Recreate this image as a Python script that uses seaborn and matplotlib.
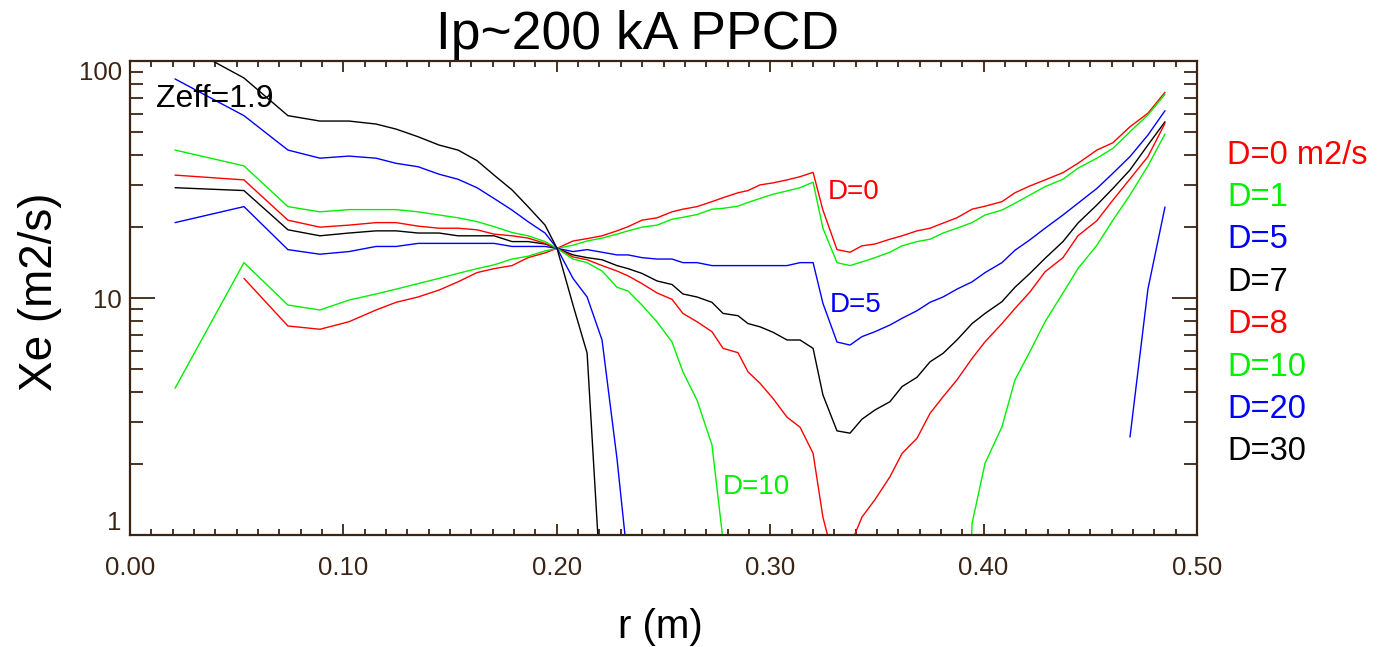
import numpy as np
import pandas as pd
import matplotlib
matplotlib.use("Agg")
import matplotlib.pyplot as plt
import seaborn as sns
from matplotlib.ticker import MultipleLocator, LogLocator, FuncFormatter, NullFormatter

nan = np.nan

# radial grid (m)
r = [0.0211, 0.0534, 0.0740, 0.0890, 0.1026, 0.1153, 0.1247, 0.1350, 0.1448, 0.1537,
     0.1626, 0.1706, 0.1790, 0.1865, 0.1945, 0.2001, 0.2076, 0.2142, 0.2212, 0.2282,
     0.2334, 0.2399, 0.2470, 0.2540, 0.2591, 0.2657, 0.2727, 0.2779, 0.2849, 0.2896,
     0.2952, 0.3013, 0.3079, 0.3140, 0.3201, 0.3247, 0.3313, 0.3374, 0.3430, 0.3491,
     0.3561, 0.3618, 0.3688, 0.3749, 0.3810, 0.3875, 0.3946, 0.4007, 0.4086, 0.4147,
     0.4217, 0.4288, 0.4372, 0.4442, 0.4531, 0.4606, 0.4686, 0.4770, 0.4850]

xe_d0 = [nan, 12.1, 7.62, 7.38, 7.94, 8.9, 9.59, 10.1, 10.8, 11.7,
         12.8, 13.3, 13.7, 14.8, 15.5, 16.2, 17.4, 17.8, 18.3, 19.2,
         20.0, 21.3, 21.8, 23.1, 23.7, 24.3, 25.5, 26.5, 27.8, 28.4,
         30.0, 30.6, 31.5, 32.5, 33.9, 23.5, 16.0, 15.6, 16.6, 16.9,
         17.7, 18.3, 19.2, 19.7, 20.7, 21.8, 23.7, 24.4, 25.5, 27.8,
         29.7, 31.5, 33.8, 37.0, 42.1, 45.2, 52.8, 60.2, 73.8]

xe_d1 = [4.16, 14.1, 9.34, 8.9, 9.8, 10.4, 10.9, 11.5, 12.1, 12.7,
         13.3, 13.8, 14.6, 15.0, 15.8, 16.2, 16.7, 17.4, 17.9, 18.6,
         19.2, 19.9, 20.3, 21.5, 21.9, 22.5, 23.7, 23.9, 24.4, 25.3,
         26.3, 27.4, 28.3, 29.2, 30.8, 19.7, 14.1, 13.7, 14.2, 14.8,
         15.6, 16.6, 17.3, 17.7, 18.8, 19.7, 20.8, 22.4, 23.5, 25.1,
         27.2, 29.5, 31.7, 35.3, 38.9, 42.8, 50.3, 59.2, 72.4]

xe_d5 = [20.8, 24.3, 16.0, 15.3, 15.7, 16.5, 16.5, 17.0, 17.0, 17.0,
         17.0, 17.0, 16.5, 16.5, 16.5, 16.2, 15.7, 16.0, 15.6, 15.2,
         15.2, 14.8, 14.6, 14.6, 14.1, 14.1, 13.7, 13.7, 13.7, 13.7,
         13.7, 13.7, 13.7, 14.1, 14.1, 9.5, 6.52, 6.33, 6.87, 7.21,
         7.69, 8.21, 8.84, 9.59, 10.1, 10.9, 11.7, 12.8, 14.1, 15.9,
         17.6, 19.7, 22.4, 25.1, 29.0, 33.6, 39.5, 48.7, 61.7]

xe_d7 = [29.2, 28.4, 19.4, 18.3, 18.8, 19.2, 19.2, 18.8, 18.8, 18.3,
         18.3, 18.3, 17.3, 17.3, 16.9, 16.2, 15.2, 14.8, 14.5, 13.7,
         13.3, 12.7, 11.8, 11.4, 10.4, 10.1, 9.59, 8.61, 8.42, 7.8,
         7.56, 7.17, 6.65, 6.65, 6.13, 3.9, 2.75, 2.69, 3.08, 3.37,
         3.65, 4.23, 4.63, 5.38, 5.84, 6.65, 7.8, 8.61, 9.65, 11.1,
         12.7, 14.7, 17.3, 20.7, 24.7, 29.0, 34.7, 44.2, 55.4]

xe_d8 = [33.0, 31.5, 21.3, 19.9, 20.3, 20.8, 20.8, 20.1, 19.7, 19.7,
         19.4, 18.6, 18.3, 17.9, 17.0, 16.2, 14.9, 14.5, 13.7, 13.0,
         12.4, 11.5, 10.5, 9.87, 8.61, 7.94, 7.21, 6.13, 5.88, 4.88,
         4.37, 3.77, 3.14, 2.85, 2.21, 1.19, 0.7, 0.9, 1.19, 1.41,
         1.76, 2.21, 2.56, 3.26, 3.83, 4.51, 5.56, 6.54, 7.8, 9.03,
         10.6, 12.9, 14.8, 18.3, 21.2, 25.9, 31.8, 39.5, 54.6]

xe_d10 = [42.1, 36.1, 24.3, 23.1, 23.6, 23.6, 23.6, 23.1, 22.4, 21.8,
          21.0, 20.0, 18.9, 18.3, 17.3, 16.2, 14.6, 14.1, 13.0, 11.1,
          10.7, 9.34, 7.92, 6.52, 4.88, 3.71, 2.40, 0.95, 0.05, 0.05,
          0.05, 0.05, 0.05, 0.05, 0.05, 0.05, 0.05, 0.05, 0.05, 0.05,
          0.05, 0.05, 0.05, 0.05, 0.05, 0.01, 1.12, 2.01, 2.86, 4.51,
          5.94, 7.94, 10.5, 13.3, 16.7, 21.3, 27.2, 36.1, 49.2]

xe_d20 = [84.0, 58.8, 42.1, 38.9, 39.7, 38.9, 37.0, 35.8, 33.3, 31.7,
          29.2, 26.3, 23.5, 21.0, 18.8, 16.2, 12.1, 10.1, 6.65, 2.10,
          0.75] + [nan] * 35 + [2.59, 10.9, 24.2]

xe_d30 = [122.0, 84.8, 58.8, 55.8, 55.8, 54.2, 51.6, 47.9, 44.2, 42.1,
          38.0, 33.0, 28.6, 24.3, 20.3, 16.2, 9.34, 5.86, 0.5] + [nan] * 40

labels = ["D=0", "D=1", "D=5", "D=7", "D=8", "D=10", "D=20", "D=30"]
legend_text = ["D=0 m2/s", "D=1", "D=5", "D=7", "D=8", "D=10", "D=20", "D=30"]
colors = ["#ff0000", "#00f000", "#0000ff", "#000000",
          "#ff0000", "#00f000", "#0000ff", "#000000"]
series = [xe_d0, xe_d1, xe_d5, xe_d7, xe_d8, xe_d10, xe_d20, xe_d30]

yticks = [1, 10, 100]
ytick_labels = ["1", "10", "100"]

# long-form table, split into contiguous pieces where values are missing
rows = []
seg = 0
for lab, vals in zip(labels, series):
    seg += 1
    for x, v in zip(r, vals):
        if np.isnan(v):
            seg += 1
            continue
        rows.append((x, v, lab, seg))
df = pd.DataFrame(rows, columns=["r", "Xe", "D", "seg"])

sns.set_style("ticks")
plt.rcParams["font.family"] = ["Liberation Sans", "DejaVu Sans"]
plt.rcParams["text.color"] = "black"

brown = "#3b2414"

fig = plt.figure(figsize=(13.87, 6.47), dpi=100)
ax = fig.add_axes([130 / 1387, 1 - 535 / 647, 1067 / 1387, 474 / 647])

sns.lineplot(data=df, x="r", y="Xe", hue="D", units="seg", estimator=None,
             sort=False, palette=dict(zip(labels, colors)), lw=1.0,
             legend=False, ax=ax)

ax.set_yscale("log")
ax.set_xlim(0, 0.5)
ax.set_ylim(1, 100)
ax.set_xlabel("")
ax.set_ylabel("")

ax.xaxis.set_major_locator(MultipleLocator(0.1))
ax.xaxis.set_minor_locator(MultipleLocator(0.01))
ax.xaxis.set_major_formatter(FuncFormatter(lambda v, p: "%.2f" % v))
ax.yaxis.set_minor_locator(LogLocator(base=10, subs=np.arange(2, 10)))
ax.yaxis.set_minor_formatter(NullFormatter())
ax.set_yticks(yticks)
ylabs = ax.set_yticklabels(ytick_labels)
ylabs[0].set_va("bottom")
ylabs[-1].set_va("top")

ax.tick_params(which="both", direction="in", top=True, right=True,
               color=brown, labelcolor=brown, labelsize=18.5, width=1.3)
ax.tick_params(axis="x", which="major", length=8, pad=15)
ax.tick_params(axis="x", which="minor", length=4.3)
ax.tick_params(axis="y", which="major", length=18, pad=6)
ax.tick_params(axis="y", which="minor", length=9.5)
for s in ax.spines.values():
    s.set_color(brown)
    s.set_linewidth(1.6)

# in-plot annotations
ax.text(0.0122, 69, "Zeff=1.9", fontsize=23, color="black", va="center")
ax.text(0.327, 28, "D=0", fontsize=20, color="#ff0000", va="center")
ax.text(0.328, 9.3, "D=5", fontsize=20, color="#0000ff", va="center")
ax.text(0.2779, 1.59, "D=10", fontsize=20, color="#00f000", va="center")

fig.text(637 / 1387, 1 - 35 / 647, "Ip~200 kA PPCD", fontsize=38.5,
         ha="center", va="center", color="black")
fig.text(660 / 1387, 1 - 627 / 647, "r (m)", fontsize=29,
         ha="center", va="center", color="black")
fig.text(40 / 1387, 1 - 292 / 647, "Xe (m2/s)", fontsize=33,
         ha="center", va="center", rotation=90, color="black")

# legend as coloured text on the right
for i, (t, c) in enumerate(zip(legend_text, colors)):
    fig.text(1227 / 1387, 1 - (155 + i * 42.4) / 647, t, fontsize=23.5,
             color=c, ha="left", va="center")

fig.savefig("out.png", dpi=100)
